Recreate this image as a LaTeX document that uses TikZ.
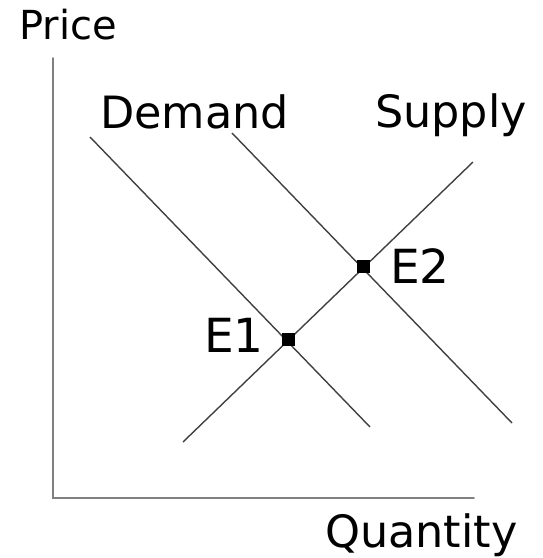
\documentclass[tikz,border=0pt]{standalone}
\usepackage{fontspec}
\setmainfont{DejaVu Sans}
\begin{document}
\begin{tikzpicture}[x=1pt,y=-1pt,
  axisline/.style={draw=black!50,line width=1.8pt,line cap=round},
  curveline/.style={draw=black!75,line width=1.4pt},
  eqpoint/.style={fill=black,minimum size=13pt,inner sep=0pt,draw=none},
  lbl/.style={inner sep=0pt,anchor=base west},
  axlabel/.style={lbl,font=\fontsize{40}{42}\selectfont},
  curvelabel/.style={lbl,font=\fontsize{44.5}{46}\selectfont},
  eqlabel/.style={lbl,font=\fontsize{47}{49}\selectfont}]
\useasboundingbox (0,0) rectangle (542,558);
% axes
\coordinate (ytop) at (53,58);
\coordinate (origin) at (53,498);
\coordinate (xend) at (474,498);
\draw[axisline] (ytop) -- (origin) -- (xend);
% curves
\coordinate (d1a) at (90,137);
\coordinate (d1b) at (370,427);
\coordinate (d2a) at (232,133);
\coordinate (d2b) at (512,423);
\coordinate (sa) at (183,442);
\coordinate (sb) at (473,162);
\draw[curveline] (d1a) -- (d1b);
\draw[curveline] (d2a) -- (d2b);
\draw[curveline] (sa) -- (sb);
% equilibria
\node[eqpoint] (E1) at (288.5,339.5) {};
\node[eqpoint] (E2) at (363.5,266) {};
% labels
\node[axlabel] (price) at (19,39) {Price};
\node[curvelabel] (qty) at (325,547) {Quantity};
\node[curvelabel] (dem) at (100,128) {Demand};
\node[curvelabel] (sup) at (375,127) {Supply};
\node[eqlabel] (e1l) at (204,352) {E1};
\node[eqlabel] (e2l) at (390,283) {E2};
\end{tikzpicture}
\end{document}
